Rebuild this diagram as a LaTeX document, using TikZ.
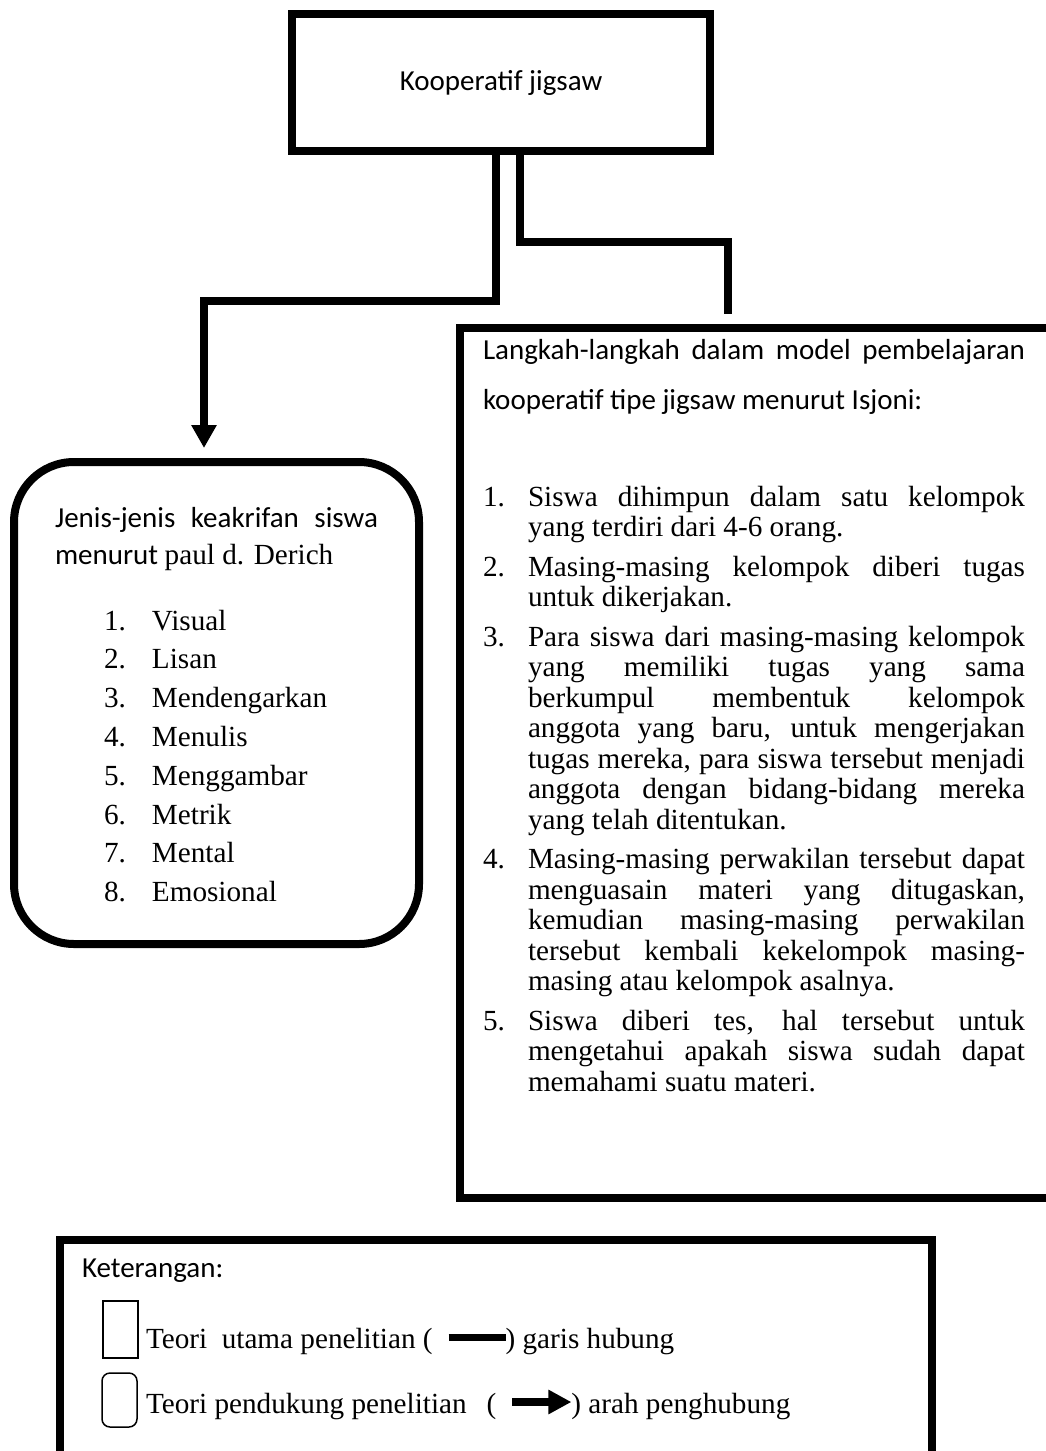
\documentclass[tikz,border=0pt]{standalone}
\usepackage{fontspec}
\setmainfont{Liberation Serif}
\newfontfamily\calfont{Carlito}
\usetikzlibrary{arrows.meta,calc}
\newcommand\numitem[3]{\noindent\hangindent=#1\hangafter=1\makebox[#1][l]{#2}#3\par}
\tikzset{
  frame/.style={draw=black, line width=4pt, inner sep=0pt, outer sep=0pt},
  conn/.style={draw=black, line width=4pt},
  thinbox/.style={draw=black, line width=0.75pt, inner sep=0pt, outer sep=0pt},
  cal/.style={font=\calfont\fontsize{14.5}{18}\selectfont},
  tms/.style={font=\fontsize{14.6}{16}\selectfont},
  txt/.style={inner sep=0pt, outer sep=0pt, anchor=base west},
  bigtip/.style={-{Triangle[length=11.5pt,width=12pt]}},
}
\begin{document}
\begin{tikzpicture}[x=0.5pt,y=-0.5pt]
\useasboundingbox (0,0) rectangle (1045,1451);

% boxes
\node[frame, cal, minimum width=209pt, minimum height=68.5pt] (top) at (501,82.5) {Kooperatif jigsaw};
\node[frame, minimum width=305pt, minimum height=435pt] (right) at (765,763) {};
\node[frame, rounded corners=30pt, minimum width=202.5pt, minimum height=241pt] (left) at (216.5,703) {};
\node[frame, minimum width=436pt, minimum height=115pt] (legend) at (496,1355) {};

% connectors
\coordinate (lbend) at (496,301);
\coordinate (ltip) at (204,448);
\coordinate (rbend) at (520,242);
\coordinate (rend) at (728,314);
\draw[conn, bigtip] (top.south -| lbend) -- (lbend) -| (ltip);
\draw[conn] (top.south -| rbend) -- (rbend) -| (rend);

% right box text
\node[txt, text width=271pt, align=justify, font=\calfont\fontsize{14.5}{25}\selectfont] (rhdr) at (483,359)
 {\tolerance=10000 Langkah-langkah dalam model pembelajaran\linebreak kooperatif tipe jigsaw menurut Isjoni:};
\node[txt, text width=271pt, align=justify, font=\fontsize{14.6}{15.25}\selectfont] (steps) at (483,506)
 {\tolerance=10000\exhyphenpenalty=10000\hyphenpenalty=10000\parskip=0pt
 \numitem{22.5pt}{1.}{Siswa dihimpun dalam satu kelompok\linebreak yang terdiri dari 4-6 orang.}
 \vspace{4.5pt}
 \numitem{22.5pt}{2.}{Masing-masing kelompok diberi tugas\linebreak untuk dikerjakan.}
 \vspace{4.5pt}
 \numitem{22.5pt}{3.}{Para siswa dari masing-masing kelompok\linebreak yang memiliki tugas yang sama\linebreak berkumpul membentuk kelompok\linebreak anggota yang baru, untuk mengerjakan\linebreak tugas mereka, para siswa tersebut menjadi\linebreak anggota dengan bidang-bidang mereka\linebreak yang telah ditentukan.}
 \vspace{4.5pt}
 \numitem{22.5pt}{4.}{Masing-masing perwakilan tersebut dapat\linebreak menguasain materi yang ditugaskan,\linebreak kemudian masing-masing perwakilan\linebreak tersebut kembali kekelompok masing-\linebreak masing atau kelompok asalnya.}
 \vspace{4.5pt}
 \numitem{22.5pt}{5.}{Siswa diberi tes, hal tersebut untuk\linebreak mengetahui apakah siswa sudah dapat\linebreak memahami suatu materi.}};

% left box text
\node[txt, text width=161.5pt, align=justify, font=\calfont\fontsize{14.5}{18.5}\selectfont] (lhdr) at (55,527)
 {\tolerance=10000 Jenis-jenis keakrifan siswa\linebreak menurut {\rmfamily\fontsize{14.6}{18.5}\selectfont paul d. Derich}};
\node[txt, text width=150pt, font=\fontsize{14.6}{19.4}\selectfont] (llist) at (104,630)
 {\parskip=0pt
 \numitem{24pt}{1.}{Visual}
 \numitem{24pt}{2.}{Lisan}
 \numitem{24pt}{3.}{Mendengarkan}
 \numitem{24pt}{4.}{Menulis}
 \numitem{24pt}{5.}{Menggambar}
 \numitem{24pt}{6.}{Metrik}
 \numitem{24pt}{7.}{Mental}
 \numitem{24pt}{8.}{Emosional}};

% legend
\node[txt, cal] (ket) at (82,1277) {Keterangan:};
\node[thinbox, minimum width=17.5pt, minimum height=28.5pt] (sq) at (120.5,1329.5) {};
\node[thinbox, rounded corners=4pt, minimum width=17.5pt, minimum height=27pt] (rsq) at (119.5,1400) {};
\node[txt, tms] (l1a) at (146,1348) {Teori\ \ utama penelitian (};
\node[txt, tms] (l1b) at ($(l1a.base east)+(73,0)$) {) garis hubung};
\draw[line width=3.5pt] ($(l1a.base east)+(16,-11)$) -- ($(l1b.base west)+(0,-11)$);
\node[txt, tms] (l2a) at (146,1413) {Teori pendukung penelitian\hspace{10pt}(};
\node[txt, tms] (l2b) at ($(l2a.base east)+(75,0)$) {) arah penghubung};
\draw[line width=4pt, -{Triangle[length=11.5pt,width=11.5pt]}] ($(l2a.base east)+(16,-11)$) -- ($(l2b.base west)+(0,-11)$);
\end{tikzpicture}
\end{document}
